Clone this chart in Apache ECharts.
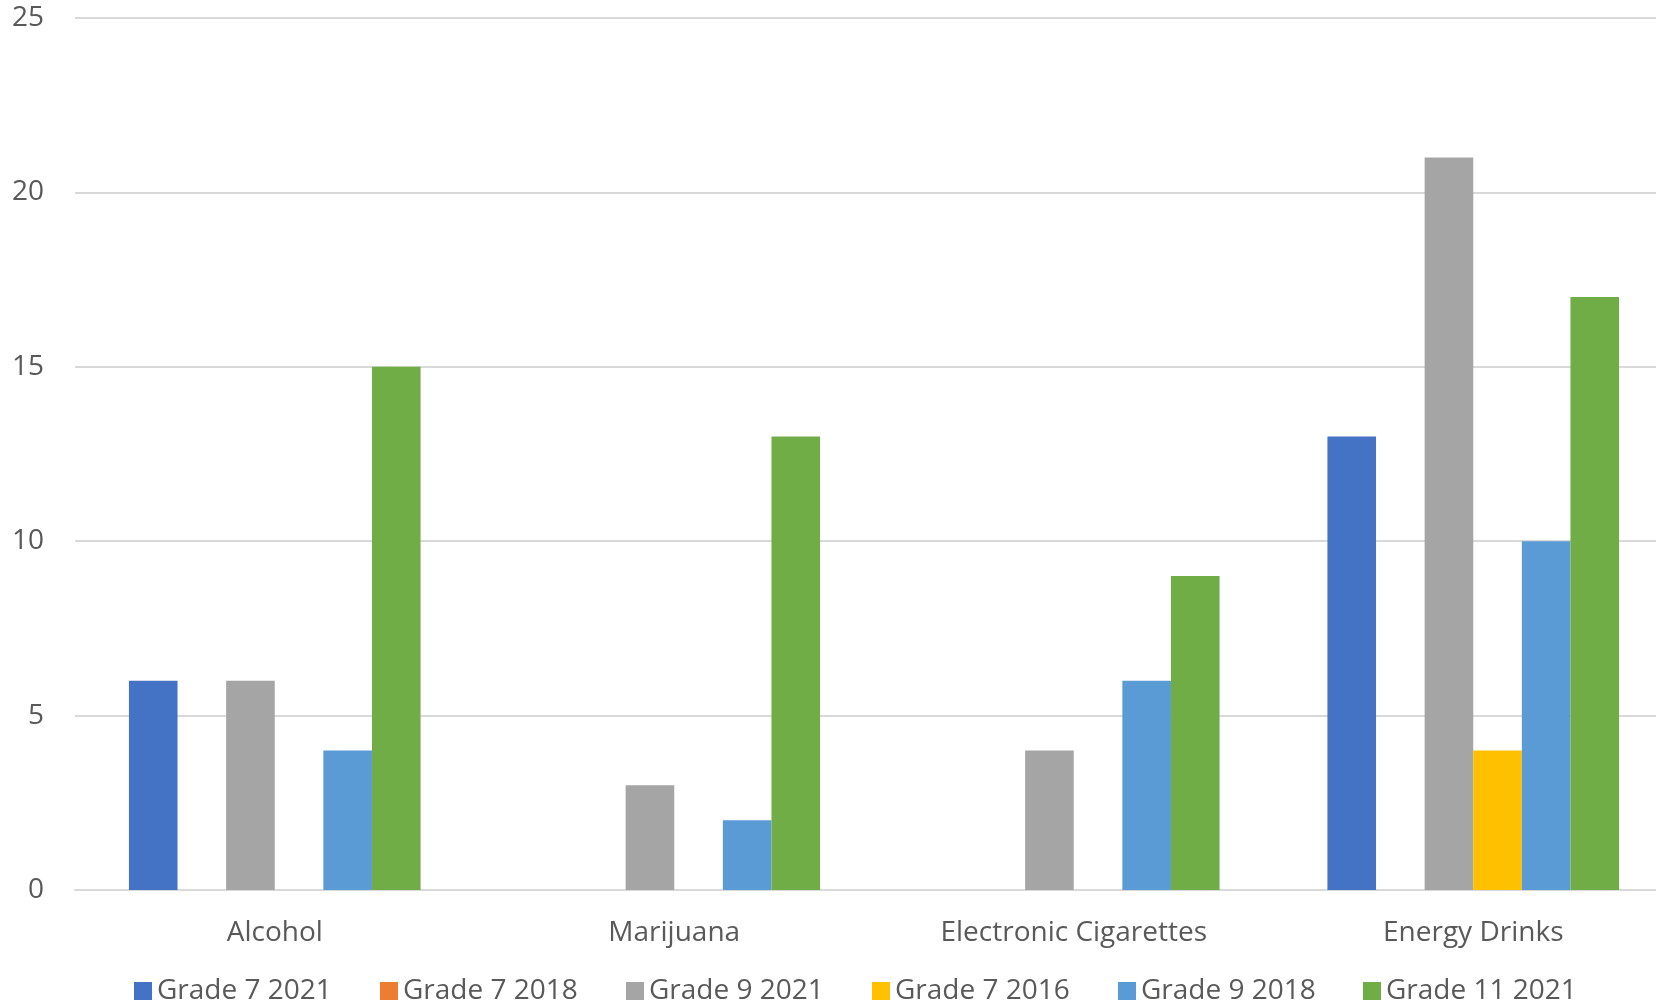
<!DOCTYPE html>
<html>
<head>
<meta charset="utf-8">
<script src="https://cdn.jsdelivr.net/npm/echarts@6/dist/echarts.min.js"></script>
<style>html,body{margin:0;padding:0;background:#fff}#c{width:1656px;height:1007px}</style>
</head>
<body>
<div id="c"></div>
<script>
const categories = ['Alcohol', 'Marijuana', 'Electronic Cigarettes', 'Energy Drinks'];
const seriesNames = ['Grade 7 2021', 'Grade 7 2018', 'Grade 9 2021', 'Grade 7 2016', 'Grade 9 2018', 'Grade 11 2021'];
const grade7_2021 = [6, 0, 0, 13];
const grade7_2018 = [0, 0, 0, 0];
const grade9_2021 = [6, 3, 4, 21];
const grade7_2016 = [0, 0, 0, 4];
const grade9_2018 = [4, 2, 6, 10];
const grade11_2021 = [15, 13, 9, 17];
const yTicks = [0, 5, 10, 15, 20, 25];

const values = [grade7_2021, grade7_2018, grade9_2021, grade7_2016, grade9_2018, grade11_2021];
const colors = ['#4472C4', '#ED7D31', '#A5A5A5', '#FFC000', '#5B9BD5', '#70AD47'];
const FONT = 'Open Sans';
const TXT = '#595959';
const legendLeft = [129, 375, 621, 867, 1113, 1358];

const chart = echarts.init(document.getElementById('c'), null, {renderer: 'canvas'});
chart.setOption({
  animation: false,
  backgroundColor: '#fff',
  grid: {left: 75, width: 1598, top: 18, height: 872, containLabel: false, outerBoundsMode: 'none'},
  legend: seriesNames.map((n, i) => ({
    data: [n], left: legendLeft[i], top: 972, icon: 'rect', itemWidth: 18, itemHeight: 18,
    textStyle: {color: TXT, fontFamily: FONT, fontSize: 28}, selectedMode: false
  })),
  xAxis: {
    type: 'category', data: categories,
    axisLine: {show: true, lineStyle: {color: '#d9d9d9', width: 2}},
    axisTick: {show: false},
    axisLabel: {color: TXT, fontFamily: FONT, fontSize: 28, margin: 29}
  },
  yAxis: {
    type: 'value', min: yTicks[0], max: yTicks[yTicks.length - 1], interval: 5,
    axisLine: {show: false}, axisTick: {show: false},
    splitLine: {lineStyle: {color: '#d9d9d9', width: 2}},
    axisLabel: {color: TXT, fontFamily: FONT, fontSize: 28, margin: 31}
  },
  series: seriesNames.map((n, i) => ({
    name: n, type: 'bar', data: values[i],
    itemStyle: {color: colors[i]},
    barGap: '0%', barCategoryGap: '27%'
  }))
});
</script>
</body>
</html>
